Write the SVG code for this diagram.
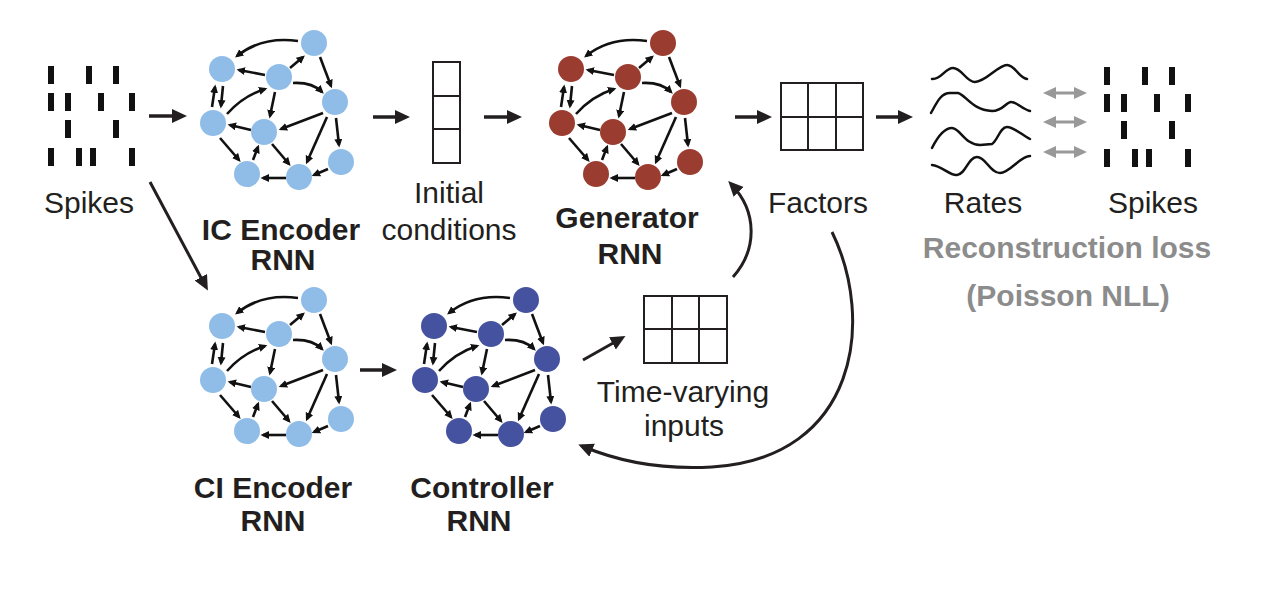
<svg xmlns="http://www.w3.org/2000/svg" xmlns:xlink="http://www.w3.org/1999/xlink" width="1261" height="613" viewBox="0 0 1261 613">
<style>
.t{font-family:"Liberation Sans",Arial,sans-serif;font-size:30px;fill:#231f20;text-anchor:middle}
.b{font-weight:bold}
.g{fill:#8c8c8c}
.e{fill:none;stroke:#111;stroke-width:2.6;marker-end:url(#sh)}
.m{fill:none;stroke:#231f20;stroke-width:3.5;marker-end:url(#bh)}
.c{fill:none;stroke:#231f20;stroke-width:3;marker-end:url(#bh)}
.ga{fill:none;stroke:#999;stroke-width:3;marker-start:url(#gh);marker-end:url(#gh)}
.sp{fill:#111}
.grid{fill:none;stroke:#231f20;stroke-width:2}
.w{fill:none;stroke:#111;stroke-width:2.5;stroke-linecap:round}
</style>
<defs>
<marker id="sh" markerUnits="userSpaceOnUse" markerWidth="10" markerHeight="9" refX="6" refY="4" orient="auto"><path d="M0,0 L8.5,4 L0,8 z" fill="#111"/></marker>
<marker id="bh" markerUnits="userSpaceOnUse" markerWidth="16" markerHeight="15" refX="11" refY="7" orient="auto"><path d="M0,0 L15,7 L0,14 z" fill="#231f20"/></marker>
<marker id="gh" markerUnits="userSpaceOnUse" markerWidth="14" markerHeight="13" refX="9" refY="6" orient="auto-start-reverse"><path d="M0,0 L13,6 L0,12 z" fill="#999"/></marker>
<g id="edges">
<path class="e" d="M298,41 Q262,36 237,56"/>
<line class="e" x1="290" y1="68" x2="303" y2="57"/>
<line class="e" x1="265" y1="75" x2="239" y2="70"/>
<path class="e" d="M293,83 Q312,82 322,92"/>
<line class="e" x1="320" y1="57" x2="331" y2="86"/>
<line class="e" x1="212" y1="107" x2="215" y2="87"/>
<line class="e" x1="223" y1="86" x2="221" y2="106"/>
<path class="e" d="M227,114 Q243,96 265,89"/>
<line class="e" x1="275" y1="92" x2="270" y2="116"/>
<line class="e" x1="323" y1="113" x2="281" y2="129"/>
<line class="e" x1="251" y1="130" x2="230" y2="125"/>
<line class="e" x1="327" y1="117" x2="307" y2="162"/>
<line class="e" x1="336" y1="118" x2="339" y2="145"/>
<line class="e" x1="220" y1="138" x2="239" y2="160"/>
<line class="e" x1="253" y1="160" x2="258" y2="147"/>
<line class="e" x1="272" y1="144" x2="289" y2="164"/>
<line class="e" x1="328" y1="169" x2="314" y2="175"/>
<line class="e" x1="286" y1="178" x2="263" y2="178"/>
</g>
<g id="nodes">
<circle cx="314" cy="43" r="13"/>
<circle cx="222" cy="69" r="13"/>
<circle cx="279" cy="77" r="13"/>
<circle cx="335" cy="102" r="13"/>
<circle cx="213" cy="123" r="13"/>
<circle cx="264" cy="132" r="13"/>
<circle cx="341" cy="162" r="13"/>
<circle cx="247" cy="174" r="13"/>
<circle cx="299" cy="177" r="13"/>
</g>
<g id="spk">
<rect class="sp" x="48" y="66" width="6" height="18"/>
<rect class="sp" x="86" y="66" width="6" height="18"/>
<rect class="sp" x="113" y="66" width="6" height="18"/>
<rect class="sp" x="48" y="93" width="6" height="18"/>
<rect class="sp" x="65" y="93" width="6" height="18"/>
<rect class="sp" x="98" y="93" width="6" height="18"/>
<rect class="sp" x="129" y="93" width="6" height="18"/>
<rect class="sp" x="65" y="120" width="6" height="18"/>
<rect class="sp" x="113" y="120" width="6" height="18"/>
<rect class="sp" x="48" y="148" width="6" height="18"/>
<rect class="sp" x="76" y="148" width="6" height="18"/>
<rect class="sp" x="90" y="148" width="6" height="18"/>
<rect class="sp" x="129" y="148" width="6" height="18"/>
</g>
</defs>

<g id="spikes-in">
<use href="#spk"/>
<text class="t" x="89" y="213">Spikes</text>
</g>

<g id="ic-encoder">
<use href="#edges"/>
<use href="#nodes" fill="#8fbde8"/>
<text class="t b" x="281" y="240">IC Encoder</text>
<text class="t b" x="283" y="270">RNN</text>
</g>

<g id="initial-conditions">
<rect class="grid" x="433" y="62" width="27" height="101"/>
<line class="grid" x1="433" y1="96" x2="460" y2="96"/>
<line class="grid" x1="433" y1="129" x2="460" y2="129"/>
<text class="t" x="449" y="203">Initial</text>
<text class="t" x="449" y="240">conditions</text>
</g>

<g id="generator">
<use href="#edges" transform="translate(349,0)"/>
<use href="#nodes" transform="translate(349,0)" fill="#9b3c30"/>
<text class="t b" x="627" y="228">Generator</text>
<text class="t b" x="630" y="264">RNN</text>
</g>

<g id="factors">
<rect class="grid" x="781" y="83" width="82" height="67"/>
<line class="grid" x1="808" y1="83" x2="808" y2="150"/>
<line class="grid" x1="836" y1="83" x2="836" y2="150"/>
<line class="grid" x1="781" y1="117" x2="863" y2="117"/>
<text class="t" x="818" y="213">Factors</text>
</g>

<g id="rates">
<path class="w" d="M932,79 C941,80 945,68 953,68 C962,68 966,82 975,82 C986,82 998,65 1007,65 C1015,65 1018,77 1027,79"/>
<path class="w" d="M931,113 C937,102 941,93 950,93 L958,93 C966,95 972,110 992,111 C1003,111 1006,102 1011,102 C1017,102 1022,109 1030,111"/>
<path class="w" d="M932,148 C938,136 945,128 952,128 C960,128 965,145 980,145 L992,144 C998,140 1000,127 1007,127 C1014,127 1022,135 1030,139"/>
<path class="w" d="M932,165 C942,166 950,176 957,175 C966,174 968,157 977,157 C986,157 990,173 1000,173 C1010,173 1020,156 1030,156"/>
<text class="t" x="983" y="213">Rates</text>
</g>

<g id="spikes-out">
<use href="#spk" transform="translate(1056,1)"/>
<text class="t" x="1153" y="213">Spikes</text>
</g>

<g id="loss">
<line class="ga" x1="1047" y1="93" x2="1083" y2="93"/>
<line class="ga" x1="1047" y1="122" x2="1083" y2="122"/>
<line class="ga" x1="1047" y1="152" x2="1083" y2="152"/>
<text class="t b g" x="1067" y="258">Reconstruction loss</text>
<text class="t b g" x="1068" y="306">(Poisson NLL)</text>
</g>

<g id="ci-encoder">
<use href="#edges" transform="translate(0,257)"/>
<use href="#nodes" transform="translate(0,257)" fill="#8fbde8"/>
<text class="t b" x="273" y="498">CI Encoder</text>
<text class="t b" x="273" y="531">RNN</text>
</g>

<g id="controller">
<use href="#edges" transform="translate(212,257)"/>
<use href="#nodes" transform="translate(212,257)" fill="#45529f"/>
<text class="t b" x="482" y="498">Controller</text>
<text class="t b" x="479" y="531">RNN</text>
</g>

<g id="time-varying-inputs">
<rect class="grid" x="644" y="296" width="83" height="67"/>
<line class="grid" x1="672" y1="296" x2="672" y2="363"/>
<line class="grid" x1="699" y1="296" x2="699" y2="363"/>
<line class="grid" x1="644" y1="329" x2="727" y2="329"/>
<text class="t" x="683" y="402">Time-varying</text>
<text class="t" x="684" y="436">inputs</text>
</g>

<g id="connectors">
<line class="m" x1="149" y1="116" x2="183" y2="116"/>
<line class="m" x1="373" y1="117" x2="406" y2="117"/>
<line class="m" x1="484" y1="117" x2="518" y2="117"/>
<line class="m" x1="735" y1="117" x2="768" y2="117"/>
<line class="m" x1="876" y1="117" x2="909" y2="117"/>
<line class="c" x1="150" y1="182" x2="206" y2="287"/>
<line class="m" x1="360" y1="370" x2="393" y2="370"/>
<line class="c" x1="583" y1="360" x2="622" y2="338"/>
<path class="c" d="M733,277 C757,250 758,212 731,184"/>
<path class="c" d="M832,232 C875,320 858,458 712,467 C660,470 615,460 582,446"/>
</g>
</svg>
